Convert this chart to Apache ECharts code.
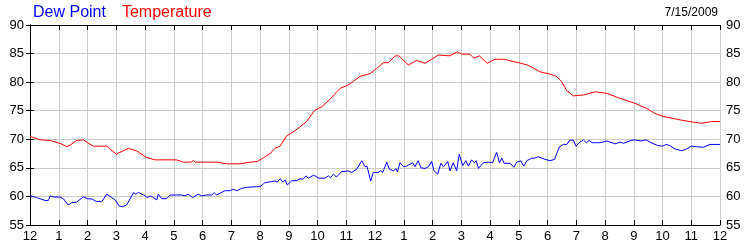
<!DOCTYPE html>
<html>
<head>
<meta charset="utf-8">
<script src="https://cdn.jsdelivr.net/npm/echarts@6/dist/echarts.min.js"></script>
<style>html,body{margin:0;padding:0;background:#fff}#c{width:750px;height:250px}</style>
</head>
<body>
<div id="c"></div>
<script>
// Hours since midnight (0..24) and readings
var hourLabels = ['12','1','2','3','4','5','6','7','8','9','10','11','12','1','2','3','4','5','6','7','8','9','10','11','12'];
var yTicks = [55, 60, 65, 70, 75, 80, 85, 90];
var dateText = '7/15/2009';

var tempHours = [
  0, 0.35, 0.7, 1.04, 1.28, 1.4, 1.62, 1.86, 2.0, 2.2,
  2.67, 3.0, 3.25, 3.42, 3.7, 4.06, 4.35, 5.1, 5.33, 5.6,
  5.68, 5.75, 6.5, 6.84, 7.3, 7.65, 7.9, 8.1, 8.35, 8.52,
  8.7, 8.93, 9.16, 9.4, 9.62, 9.91, 10.15, 10.43, 10.78, 11.07,
  11.48, 11.83, 12.06, 12.29, 12.47, 12.7, 12.83, 13.16, 13.45, 13.74,
  13.97, 14.2, 14.6, 14.86, 15.02, 15.3, 15.44, 15.63, 15.9, 16.17,
  16.5, 16.8, 17.0, 17.3, 17.5, 17.74, 18.09, 18.32, 18.49, 18.67,
  18.9, 19.25, 19.65, 20.06, 20.5, 21.04, 21.45, 21.74, 22.03, 22.6,
  23.07, 23.36, 23.71, 24
];
var tempValues = [
  70.5, 69.9, 69.8, 69.3, 68.7, 69.0, 69.8, 69.9, 69.4, 68.8,
  68.8, 67.4, 68.0, 68.4, 68.0, 66.8, 66.4, 66.4, 66.0, 66.0,
  66.3, 66.0, 66.0, 65.7, 65.7, 66.0, 66.1, 66.7, 67.5, 68.4,
  68.8, 70.6, 71.3, 72.2, 73.1, 75.1, 75.7, 77.0, 78.9, 79.5,
  81.0, 81.5, 82.4, 83.4, 83.4, 84.6, 84.6, 83.0, 83.8, 83.3,
  84.0, 84.75, 84.6, 85.3, 84.9, 84.9, 84.2, 84.6, 83.3, 84.0,
  84.0, 83.6, 83.4, 83.0, 82.5, 81.8, 81.4, 81.0, 80.1, 78.5,
  77.6, 77.75, 78.3, 78.05, 77.2, 76.3, 75.4, 74.5, 74.0, 73.4,
  73.0, 72.8, 73.1, 73.1
];

var dewHours = [
  0, 0.1, 0.23, 0.35, 0.52, 0.64, 0.7, 0.81, 0.87, 1.04,
  1.16, 1.33, 1.45, 1.5, 1.62, 1.86, 2.0, 2.15, 2.32, 2.5,
  2.67, 2.84, 2.96, 3.1, 3.22, 3.27, 3.36, 3.6, 3.68, 3.77,
  3.94, 4.08, 4.2, 4.29, 4.41, 4.46, 4.58, 4.75, 4.87, 5.28,
  5.39, 5.5, 5.66, 5.85, 5.97, 6.15, 6.2, 6.32, 6.41, 6.49,
  6.78, 6.96, 7.07, 7.19, 7.36, 7.54, 7.88, 8.0, 8.17, 8.4,
  8.52, 8.6, 8.7, 8.79, 8.87, 8.95, 9.1, 9.28, 9.39, 9.5,
  9.6, 9.68, 9.86, 9.95, 10.03, 10.26, 10.38, 10.45, 10.55, 10.66,
  10.84, 11.07, 11.19, 11.36, 11.54, 11.65, 11.72, 11.85, 11.94, 12.11,
  12.2, 12.27, 12.41, 12.5, 12.64, 12.73, 12.78, 12.87, 12.99, 13.1,
  13.31, 13.39, 13.5, 13.6, 13.74, 13.86, 13.97, 14.05, 14.18, 14.29,
  14.38, 14.53, 14.61, 14.72, 14.84, 14.93, 15.05, 15.16, 15.25, 15.36,
  15.45, 15.52, 15.6, 15.77, 15.94, 16.09, 16.23, 16.33, 16.41, 16.49,
  16.7, 16.83, 16.93, 17.07, 17.18, 17.28, 17.45, 17.55, 17.68, 17.91,
  18.09, 18.25, 18.32, 18.42, 18.55, 18.67, 18.78, 18.9, 18.99, 19.1,
  19.25, 19.35, 19.45, 19.55, 19.7, 19.83, 20.06, 20.35, 20.52, 20.65,
  20.9, 21.04, 21.25, 21.43, 21.6, 21.84, 22.0, 22.13, 22.25, 22.44,
  22.67, 22.84, 23.0, 23.19, 23.42, 23.65, 24
];
var dewValues = [
  60.1, 60.0, 59.8, 59.6, 59.3, 59.3, 60.1, 59.9, 60.25, 59.9,
  59.6, 58.5, 58.9, 58.8, 59.0, 59.95, 59.6, 59.55, 59.1, 59.1,
  60.4, 59.8, 59.4, 58.3, 58.2, 58.55, 58.5, 60.65, 60.4, 60.7,
  60.3, 59.8, 60.1, 59.8, 59.4, 60.4, 59.6, 59.6, 60.25, 60.25,
  60.1, 60.4, 59.8, 60.4, 60.1, 60.25, 60.4, 60.25, 60.65, 60.25,
  61.0, 61.0, 61.25, 61.0, 61.4, 61.6, 61.7, 61.7, 62.4, 62.6,
  62.7, 62.5, 63.1, 62.5, 62.9, 62.0, 62.75, 62.75, 63.1, 63.0,
  63.6, 63.2, 63.7, 63.5, 63.2, 63.2, 63.6, 63.25, 63.9, 63.4,
  64.35, 64.45, 64.2, 64.75, 66.25, 65.2, 65.3, 62.7, 64.2, 64.2,
  64.5, 64.2, 66.0, 64.75, 64.5, 64.85, 64.3, 65.9, 65.2, 65.3,
  65.9, 65.2, 66.25, 65.0, 64.9, 65.2, 66.1, 64.5, 63.9, 65.8,
  65.2, 66.1, 64.45, 65.9, 64.5, 67.4, 65.4, 66.25, 65.3, 66.4,
  65.9, 66.25, 64.9, 65.9, 66.0, 65.9, 67.7, 65.9, 66.7, 65.8,
  65.8, 65.1, 66.0, 66.2, 65.3, 66.25, 66.7, 66.7, 66.95, 66.5,
  66.25, 66.5, 67.5, 68.7, 69.1, 69.1, 69.85, 69.85, 68.8, 69.4,
  69.9, 69.4, 69.8, 69.4, 69.4, 69.4, 69.7, 69.2, 69.5, 69.3,
  69.8, 69.9, 69.7, 69.9, 69.4, 68.9, 68.8, 69.1, 68.9, 68.3,
  68.0, 68.3, 68.8, 68.7, 68.6, 69.1, 69.1
];

function pairs(xs, ys) {
  var out = [];
  for (var i = 0; i < xs.length; i++) out.push([xs[i], ys[i]]);
  return out;
}

var FONT = 'Liberation Sans, Arial, sans-serif';
var chart = echarts.init(document.getElementById('c'), null, {renderer: 'canvas'});
var axisLineStyle = {color: '#000', width: 1};
var option = {
  animation: false,
  backgroundColor: '#ffffff',
  grid: {left: 30, right: 30, top: 25, bottom: 25, containLabel: false},
  legend: {
    left: 28, top: 5, padding: 0, itemWidth: 0, itemHeight: 0, itemGap: 11,
    icon: 'none', selectedMode: false,
    textStyle: {fontSize: 16, fontFamily: FONT},
    data: [
      {name: 'Dew Point', textStyle: {color: '#0000ff'}},
      {name: 'Temperature', textStyle: {color: '#ff0000'}}
    ]
  },
  graphic: [{
    type: 'text', right: 32, top: 7,
    style: {text: dateText, fontSize: 12, fontFamily: FONT, fill: '#000'}
  }],
  xAxis: [{
    type: 'value', position: 'bottom', min: 0, max: 24, interval: 1,
    axisLine: {show: true, lineStyle: axisLineStyle},
    axisTick: {show: true, inside: true, length: 5, lineStyle: axisLineStyle},
    axisLabel: {
      show: true, margin: 5, fontSize: 13, fontFamily: FONT, color: '#000',
      formatter: function (v) { return hourLabels[Math.round(v)]; }
    },
    splitLine: {show: true, lineStyle: {color: '#cccccc', width: 1}}
  }, {
    type: 'value', position: 'top', min: 0, max: 24, interval: 1,
    axisLine: {show: true, lineStyle: axisLineStyle},
    axisTick: {show: true, inside: true, length: 5, lineStyle: axisLineStyle},
    axisLabel: {show: false},
    splitLine: {show: false}
  }],
  yAxis: [{
    type: 'value', position: 'left', min: yTicks[0], max: yTicks[yTicks.length - 1], interval: 5,
    axisLine: {show: true, lineStyle: axisLineStyle},
    axisTick: {show: true, inside: false, length: 4, lineStyle: axisLineStyle},
    axisLabel: {show: true, margin: 6, fontSize: 13, fontFamily: FONT, color: '#000'},
    splitLine: {show: true, lineStyle: {color: '#cccccc', width: 1}}
  }, {
    type: 'value', position: 'right', min: yTicks[0], max: yTicks[yTicks.length - 1], interval: 5,
    axisLine: {show: true, lineStyle: axisLineStyle},
    axisTick: {show: true, inside: false, length: 4, lineStyle: axisLineStyle},
    axisLabel: {show: true, margin: 6, fontSize: 13, fontFamily: FONT, color: '#000'},
    splitLine: {show: false}
  }],
  series: [{
    name: 'Dew Point', type: 'line', xAxisIndex: 0, yAxisIndex: 0,
    showSymbol: false, symbol: 'none',
    lineStyle: {color: '#0000ff', width: 1}, itemStyle: {color: '#0000ff'},
    data: pairs(dewHours, dewValues), z: 3
  }, {
    name: 'Temperature', type: 'line', xAxisIndex: 0, yAxisIndex: 0,
    showSymbol: false, symbol: 'none',
    lineStyle: {color: '#ff0000', width: 1}, itemStyle: {color: '#ff0000'},
    data: pairs(tempHours, tempValues), z: 3
  }]
};
chart.setOption(option);
</script>
</body>
</html>
